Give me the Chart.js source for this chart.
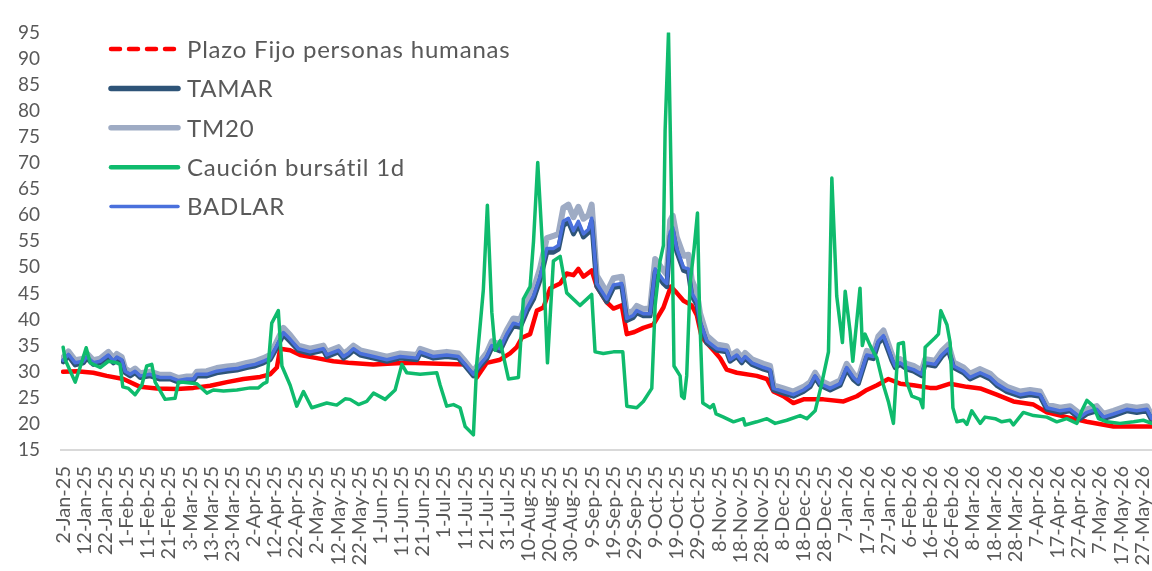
<!DOCTYPE html>
<html>
<head>
<meta charset="utf-8">
<script src="https://cdn.jsdelivr.net/npm/chart.js@4.4.1/dist/chart.umd.min.js"></script>
<style>
  html, body { margin: 0; background: #fff; }
  #wrap { width: 1152px; height: 571px; position: relative; }
</style>
</head>
<body>
<div id="wrap"><canvas id="chart"></canvas></div>
<script>
// etiquetas del eje x, una cada 10 dias desde 2-Jan-25
const xTickLabels = ['2-Jan-25','12-Jan-25','22-Jan-25','1-Feb-25','11-Feb-25','21-Feb-25','3-Mar-25','13-Mar-25','23-Mar-25',
  '2-Apr-25','12-Apr-25','22-Apr-25','2-May-25','12-May-25','22-May-25','1-Jun-25','11-Jun-25','21-Jun-25','1-Jul-25',
  '11-Jul-25','21-Jul-25','31-Jul-25','10-Aug-25','20-Aug-25','30-Aug-25','9-Sep-25','19-Sep-25','29-Sep-25','9-Oct-25',
  '19-Oct-25','29-Oct-25','8-Nov-25','18-Nov-25','28-Nov-25','8-Dec-25','18-Dec-25','28-Dec-25','7-Jan-26','17-Jan-26',
  '27-Jan-26','6-Feb-26','16-Feb-26','26-Feb-26','8-Mar-26','18-Mar-26','28-Mar-26','7-Apr-26','17-Apr-26','27-Apr-26',
  '7-May-26','17-May-26','27-May-26'];

// TAMAR, TM20 y BADLAR (dias desde 2-Jan-25)
const rateDays = [0,2.5,5.7,9.6,11.2,14.3,17.5,21.4,23.8,25.4,27.7,29.3,31.7,34,36.4,41.1,45.8,50.6,54.5,58.5,61.6,63.2,67.9,
  72.6,77.4,82.1,86.8,90.7,94.7,97.8,101,104.1,107.3,111.2,116.7,123,124.6,130.1,132.5,134.8,137.2,140.4,146.6,153,159.3,
  167.2,168.7,175,181.3,186.8,190,193.9,197.1,200.2,202.6,206.5,209.7,212.8,216,219.1,222.3,225.4,228.6,231.7,234.1,236.4,
  238.8,241.2,243.5,245.9,248.3,249.8,252.2,256.9,260.1,264,266.4,269.5,271.1,274.2,277.4,279.8,283.7,285.3,286.9,288.1,
  290,293.2,295.5,297.1,299.5,301,304.2,308.9,313.6,315.2,318.4,320.7,322.3,325.5,331,334.1,335.7,340.4,345.1,349.9,353,
  355.4,357.7,362.5,367.2,370.3,373.5,375.8,379.8,382.9,385.3,387.7,390,391.6,393.2,395.6,398.7,401.9,405.8,407.4,412.1,
  415.3,418.4,420.8,425.5,428.6,433.4,438.1,441.2,446,452.3,457,461.7,464.9,471.2,475.9,480.6,483.8,488.5,491.7,496.4,
  502.7,507.4,512.2,514.5];
const badlar = [32.2,33.3,31.7,32.0,32.9,31.7,32.0,33.2,32.0,32.8,32.3,30.1,29.5,30.1,29.2,29.5,28.9,28.9,28.3,28.6,28.6,29.5,
  29.5,30.1,30.4,30.6,31.1,31.4,32.0,32.6,35.0,37.5,36.2,34.4,33.8,34.4,33.2,34.1,32.9,33.5,34.4,33.5,32.9,32.3,32.9,32.6,
  33.8,32.9,33.2,32.9,31.4,29.5,31.4,32.9,35.0,34.4,37.2,39.3,39.0,42.1,44.5,48.2,53.6,53.6,54.2,58.8,59.4,57.0,58.8,56.4,
  57.3,59.4,46.9,43.9,46.6,46.9,40.2,40.8,41.7,41.1,41.1,49.7,47.5,46.9,56.7,57.6,53.6,50.0,49.7,45.1,43.3,39.6,35.9,34.4,
  34.1,32.3,33.2,32.0,32.9,31.7,30.8,30.4,26.8,26.2,25.6,26.5,27.4,29.2,27.7,26.8,27.7,30.8,28.9,28.0,33.2,32.9,35.9,36.9,
  34.4,32.6,31.1,31.7,30.8,30.4,29.5,31.7,31.4,33.2,34.4,31.1,30.1,28.9,29.8,28.9,27.7,26.5,25.6,25.9,25.6,23.1,22.5,22.8,
  21.3,22.2,22.8,21.3,21.9,22.8,22.5,22.8,21.0];
const tm20 = [32.7,33.9,32.2,32.5,33.5,32.2,32.5,33.8,32.6,33.4,32.8,30.6,30.0,30.6,29.7,30.0,29.4,29.4,28.8,29.1,29.1,30.0,
  30.1,30.7,31.0,31.2,31.7,32.0,32.6,33.2,35.8,38.4,37.0,35.0,34.4,35.0,33.8,34.7,33.5,34.1,35.0,34.1,33.5,32.9,33.5,33.2,
  34.4,33.5,33.8,33.5,32.0,30.0,32.0,33.6,35.8,35.2,38.0,40.2,40.0,43.2,45.8,49.8,55.6,56.0,56.4,61.4,62.0,59.6,61.6,59.3,
  60.0,62.0,48.4,45.2,47.9,48.2,41.1,41.7,42.6,42.0,42.1,51.6,49.4,48.6,59.0,59.9,55.8,52.2,52.4,47.6,45.2,41.2,36.9,35.2,
  34.9,33.0,33.9,32.7,33.6,32.4,31.5,31.1,27.4,26.8,26.2,27.1,28.0,29.8,28.3,27.4,28.3,31.5,29.6,28.6,34.0,33.6,36.8,37.9,
  35.3,33.4,31.8,32.4,31.5,31.1,30.2,32.4,32.1,34.0,35.2,31.8,30.8,29.6,30.5,29.6,28.4,27.1,26.2,26.5,26.2,23.7,23.1,23.4,
  21.9,22.8,23.4,21.9,22.5,23.4,23.1,23.4,21.6];
const tamar = [31.9,33.0,31.3,31.7,32.6,31.4,31.7,32.9,31.7,32.5,32.0,29.8,29.2,29.8,28.9,29.2,28.6,28.6,28.0,28.3,28.3,29.2,
  29.2,29.8,30.1,30.3,30.8,31.1,31.7,32.3,34.6,37.1,35.8,34.1,33.5,34.1,32.9,33.8,32.6,33.2,34.1,33.2,32.6,32.0,32.6,32.3,
  33.5,32.6,32.9,32.6,31.1,29.2,31.1,32.5,34.6,34.0,36.7,38.8,38.5,41.5,43.9,47.6,52.9,52.9,53.5,58.0,58.7,56.4,58.1,55.8,
  56.7,58.8,46.4,43.4,46.1,46.4,39.8,40.4,41.3,40.7,40.7,49.1,46.9,46.3,56.0,56.9,53.0,49.4,49.1,44.6,42.8,39.2,35.5,34.1,
  33.8,32.0,32.9,31.7,32.6,31.4,30.5,30.1,26.5,25.9,25.3,26.2,27.1,28.9,27.4,26.5,27.4,30.4,28.5,27.7,32.8,32.5,35.5,36.5,
  34.0,32.2,30.8,31.4,30.5,30.1,29.2,31.4,31.1,32.9,34.1,30.8,29.8,28.6,29.5,28.6,27.4,26.2,25.3,25.6,25.3,22.8,22.2,22.5,
  21.0,21.9,22.5,21.0,21.6,22.5,22.2,22.5,20.7];

// Plazo Fijo personas humanas
const pfDays = [0,6.5,14.3,20.6,28.5,36.4,44.3,53.7,61.6,69.5,77.4,85.2,93.1,97.8,101,102.6,107.3,112,119.9,127.7,134.8,146.6,
  162.4,178.2,190.8,195.5,200.2,206.5,211.2,214.4,216.8,220.7,223.9,227,230.2,234.9,238,241.2,243.5,245.9,249.8,252.2,256.9,
  260.1,264,266.4,270,274.2,278.9,283.7,287.2,290,293.2,297.1,299.5,301.8,307.3,310.5,313.6,318.4,327.8,332.6,335.7,340.4,
  345.1,349.9,359.3,368.8,375.1,379.8,384.6,390,395.6,401.9,409.7,412.9,419.2,427.1,433.4,441.2,449.1,458.6,464.9,474.3,
  483.8,496.4,505.9,514.5];
const plazoFijo = [30.0,30.1,29.8,29.2,28.6,27.1,26.8,26.7,26.9,27.3,28.0,28.6,29.0,29.5,30.8,34.4,34.1,33.2,32.6,32.0,31.7,31.4,
  31.7,31.5,31.4,28.9,31.7,32.3,33.5,34.7,36.5,37.2,41.7,42.3,46.0,46.9,48.8,48.5,49.7,48.2,49.4,46.3,43.3,42.1,42.7,37.2,
  37.6,38.4,39.0,42.3,46.3,45.1,43.6,42.7,40.8,36.6,34.1,32.6,30.4,29.8,29.2,28.6,26.2,25.3,24.0,24.7,24.7,24.3,25.3,26.5,
  27.4,28.6,27.7,27.4,26.9,26.9,27.7,27.1,26.8,25.6,24.3,23.7,22.2,21.3,20.4,19.5,19.5,19.5];

// Caucion bursatil 1d
const caucionDays = [0,1,5.7,8,10.9,12.8,17.5,21.4,25.4,26.9,28.2,30.9,34,37.2,39.5,41.9,43.5,48.2,52.9,54.5,56.9,63.2,67.9,71,
  75.8,82.1,88.4,92.3,94.7,96.3,98.6,101.7,103.4,107.3,110.4,113.6,117.5,124.6,129.3,133.3,135.6,139.6,143.5,146.7,152.2,
  156.9,160.1,162.4,168.7,176.6,178.2,181.3,184.5,187.6,190,193.9,195.5,198.6,200.5,202.6,204.2,206.5,210.5,215.2,217.5,
  220.7,222.3,224.3,227,228.9,231.7,234.9,238,244.3,247.5,249.8,251.4,255.3,260.1,264.5,266.4,271.1,274.2,278.2,279.8,
  282.1,283.7,284.5,286.1,287.6,288.7,291.6,292.3,293.5,294.7,296.3,298.2,299.8,300.7,302.3,305.8,307.3,308.6,312.1,316.8,
  321.5,322.3,327.8,332.6,336.5,342,348.3,351.5,355.4,358.5,361.7,363.3,365.6,368.3,369.6,371.9,373.2,376.6,377.7,379,
  381.4,384.6,387.7,390,392.4,394.7,397.1,398.7,401.1,405,406.3,407.4,412.1,413.7,414.8,417.7,419.2,420.5,422.4,425.5,
  427.1,429.4,433.4,435.7,440.5,443.6,447.5,449.1,453.8,458.6,464.9,469.6,474.3,479.1,481.4,483.8,486.9,489.3,493.3,
  499.5,505.9,510.5,514.5];
const caucion = [34.7,32.3,28.0,30.8,34.6,31.7,30.8,32.0,31.7,31.4,27.1,26.8,25.6,27.4,31.1,31.4,28.0,24.7,24.9,28.0,28.0,27.7,
  25.9,26.5,26.3,26.5,26.9,26.9,27.7,28.0,39.3,41.7,31.1,27.4,23.4,26.2,23.1,24.0,23.6,24.8,24.7,23.7,24.3,25.9,24.7,26.5,
  31.4,29.8,29.5,29.8,27.4,23.4,23.7,23.1,19.5,17.9,31.7,45.7,61.9,41.4,34.1,35.9,28.6,28.9,43.9,46.3,54.9,70.1,50.6,31.7,
  51.2,52.1,45.1,42.7,43.9,44.8,33.8,33.5,33.8,33.8,23.4,23.1,24.3,26.8,42.7,51.2,54.2,76.2,94.9,61.6,31.1,29.2,25.3,24.9,
  29.2,46.9,53.6,60.4,42.7,24.0,23.1,23.7,21.9,21.3,20.4,21.0,19.8,20.4,21.0,20.1,20.7,21.6,21.0,22.5,27.7,33.8,67.1,44.5,
  35.6,45.4,37.8,32.0,46.0,35.0,37.2,35.0,32.6,27.4,24.3,20.1,35.3,35.6,28.0,25.3,24.7,23.1,34.7,36.5,37.2,41.7,39.0,35.6,
  23.1,20.4,20.7,19.9,22.5,20.1,21.3,21.0,20.4,20.7,19.8,22.2,21.6,21.3,20.4,21.0,20.1,22.5,24.5,23.4,21.0,20.4,20.1,20.4,
  20.7,20.1];

function pts(days, vals){ return days.map((d, i) => ({ x: d, y: vals[i] })); }

const textColor = '#595959';
const fontFamily = 'Lato, "Open Sans", sans-serif';

// orden de la leyenda (indices de datasets) y estilo de la muestra
const legendOrder = [4, 2, 3, 0, 1];
const legendDash = { 4: [9, 9] };

const insideLegend = {
  id: 'insideLegend',
  afterDraw(chart){
    const ctx = chart.ctx;
    ctx.save();
    ctx.font = '24px ' + fontFamily;
    ctx.textBaseline = 'middle';
    if ('letterSpacing' in ctx) ctx.letterSpacing = '0.8px';
    legendOrder.forEach((idx, i) => {
      const ds = chart.data.datasets[idx];
      const y = 49 + i * 39.4;
      ctx.strokeStyle = ds.borderColor;
      ctx.lineWidth = ds.legendWidth;
      ctx.lineCap = 'round';
      ctx.setLineDash(legendDash[idx] || []);
      ctx.beginPath(); ctx.moveTo(111, y); ctx.lineTo(178, y); ctx.stroke();
      ctx.fillStyle = textColor;
      ctx.fillText(ds.label, 187, y + 1);
    });
    ctx.restore();
  }
};

new Chart(document.getElementById('chart'), {
  type: 'line',
  data: {
    datasets: [
      { label: 'Caución bursátil 1d', data: pts(caucionDays, caucion), borderColor: '#0fbb6d', borderWidth: 3.5, legendWidth: 4.5 },
      { label: 'BADLAR', data: pts(rateDays, badlar), borderColor: '#4a70dc', borderWidth: 3.5, legendWidth: 3.5 },
      { label: 'TAMAR', data: pts(rateDays, tamar), borderColor: '#2e5478', borderWidth: 5, legendWidth: 5.5 },
      { label: 'TM20', data: pts(rateDays, tm20), borderColor: '#9eabc4', borderWidth: 6, legendWidth: 5.5 },
      { label: 'Plazo Fijo personas humanas', data: pts(pfDays, plazoFijo), borderColor: '#ff0000', borderWidth: 4.5, legendWidth: 4.5 }
    ]
  },
  options: {
    responsive: true,
    maintainAspectRatio: false,
    animation: false,
    layout: { padding: { top: 14, left: 0, right: 0, bottom: 0 } },
    elements: {
      point: { radius: 0, hoverRadius: 0 },
      line: { tension: 0, borderJoinStyle: 'round', borderCapStyle: 'round' }
    },
    plugins: { legend: { display: false }, tooltip: { enabled: false } },
    scales: {
      x: {
        type: 'linear',
        min: -1,
        max: 514.6,
        grid: { display: false, drawTicks: false },
        border: { display: true, color: '#d9d9d9', width: 2 },
        ticks: {
          stepSize: 10,
          includeBounds: false,
          autoSkip: false,
          minRotation: 90,
          maxRotation: 90,
          padding: 16,
          color: textColor,
          font: { family: fontFamily, size: 20 },
          callback: v => xTickLabels[Math.round(v / 10)] ?? ''
        },
        afterFit: s => { s.height = 121; s.paddingLeft = 0; s.paddingRight = 0; }
      },
      y: {
        min: 15,
        max: 95,
        grid: { display: false, drawTicks: false },
        border: { display: false },
        ticks: {
          stepSize: 5,
          padding: 21,
          color: textColor,
          font: { family: fontFamily, size: 19 }
        },
        afterFit: s => { s.width = 61; }
      }
    }
  },
  plugins: [insideLegend]
});
</script>
</body>
</html>
